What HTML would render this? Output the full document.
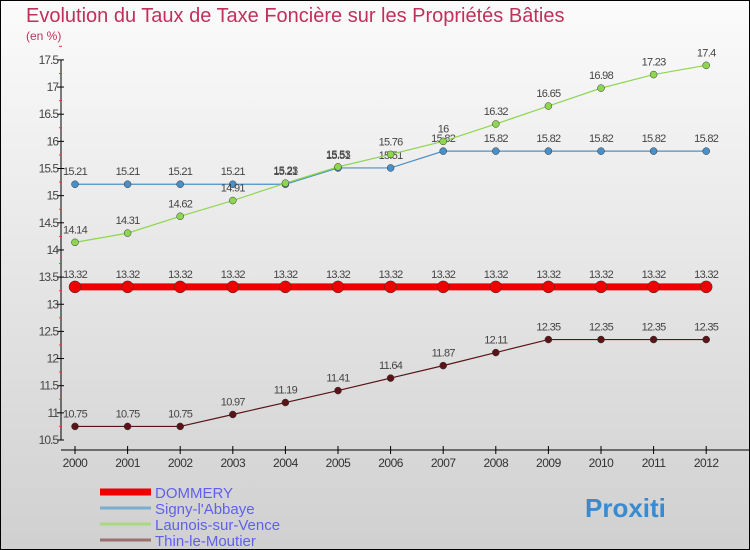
<!DOCTYPE html>
<html><head><meta charset="utf-8"><style>
body{margin:0;width:750px;height:550px;overflow:hidden;font-family:"Liberation Sans",sans-serif}
#frame{position:absolute;left:0;top:0;width:748px;height:548px;border:1px solid #000;background:linear-gradient(#fbfbfb,#d0d0d0)}
</style></head><body>
<div id="frame"></div>
<svg id="c" width="750" height="550" style="position:absolute;left:0;top:0">
<text x="26" y="22" font-size="20" fill="#c0305a">Evolution du Taux de Taxe Foncière sur les Propriétés Bâties</text>
<text x="26" y="40" font-size="12" fill="#c0305a">(en %)</text>
<line x1="61" y1="60" x2="61" y2="440" stroke="#000"/>
<line x1="61" y1="450" x2="750" y2="450" stroke="#000"/>
<g id="g"></g>
</svg>
<script>
const years=[2000,2001,2002,2003,2004,2005,2006,2007,2008,2009,2010,2011,2012];
const yTicks=[10.5,11,11.5,12,12.5,13,13.5,14,14.5,15,15.5,16,16.5,17,17.5];
const dommery=[13.32,13.32,13.32,13.32,13.32,13.32,13.32,13.32,13.32,13.32,13.32,13.32,13.32];
const signy=[15.21,15.21,15.21,15.21,15.21,15.51,15.51,15.82,15.82,15.82,15.82,15.82,15.82];
const launois=[14.14,14.31,14.62,14.91,15.23,15.53,15.76,16,16.32,16.65,16.98,17.23,17.4];
const thin=[10.75,10.75,10.75,10.97,11.19,11.41,11.64,11.87,12.11,12.35,12.35,12.35,12.35];
const X=i=>75+i*52.6, Y=v=>440-(v-10.5)*54.3;
const g=document.getElementById('g'),NS='http://www.w3.org/2000/svg';
function mk(t,a,p){const e=document.createElementNS(NS,t);for(const k in a)e.setAttribute(k,a[k]);(p||g).appendChild(e);return e;}
yTicks.forEach(v=>{
 const l=mk('line',{x1:57,y1:Y(v),x2:64,y2:Y(v),stroke:'#000'});
 
 
 const r=mk('line',{x1:59,y1:Y(v+0.25),x2:62,y2:Y(v+0.25),stroke:'#f33'});
 
 
 const t=mk('text',{x:58,y:Y(v)+4,'font-size':12,'text-anchor':'end',fill:'#444','letter-spacing':'-1'});
 t.textContent=String(v);
 
 
});
years.forEach((yr,i)=>{
 const l=mk('line',{x1:X(i),y1:446,x2:X(i),y2:454,stroke:'#000'});
 
 
 const t=mk('text',{x:X(i),y:467,'font-size':12,'text-anchor':'middle',fill:'#333','letter-spacing':'-0.5'});
 t.textContent=yr;
 
 
});
function series(vals,color,w,r,name,lab){
 const p=mk('polyline',{points:vals.map((v,i)=>X(i)+','+Y(v)).join(' '),fill:'none',stroke:color,'stroke-width':w});
 
 
 vals.forEach((v,i)=>{
  const c=mk('circle',{cx:X(i),cy:Y(v),r:r,fill:color,stroke:'#333','stroke-width':0.5});
  
  
  const t=mk('text',{x:X(i),y:Y(v)-9,'font-size':11,'text-anchor':'middle',fill:'#444','letter-spacing':'-0.7'});
  t.textContent=String(v);
  
  
 });
}
series(signy,'#4a90c8',1.2,3.5,'signy');
series(launois,'#8fd650',1.2,3.5,'launois');
series(thin,'#5a1418',1.2,3.5,'thin');
series(dommery,'#ee0000',7,6,'dommery');
const leg=[['DOMMERY','#ee0000',7],['Signy-l\'Abbaye','#7aaed0',3],['Launois-sur-Vence','#a8d880',3],['Thin-le-Moutier','#9a7070',3]];
leg.forEach((d,i)=>{
 const y=492+i*16;
 const l=mk('line',{x1:100,y1:y,x2:151,y2:y,stroke:d[1],'stroke-width':d[2]});
 
 
 const t=mk('text',{x:155,y:y+6,'font-size':15,fill:'#6060ee'});
 t.textContent=d[0];
 
 
});
const b=mk('text',{x:585,y:517,'font-size':26,'font-weight':'bold',fill:'#3a8ad0'});
b.textContent='Proxiti';


</script>
</body></html>
